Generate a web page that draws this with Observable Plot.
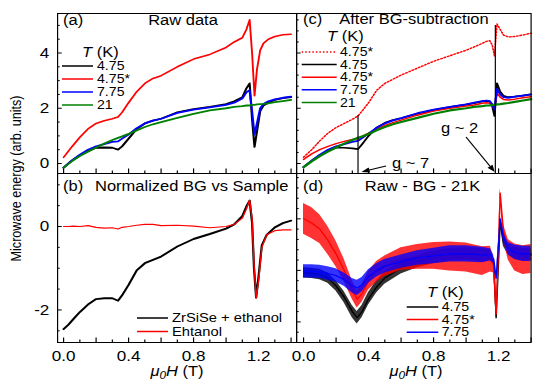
<!DOCTYPE html>
<html>
<head>
<meta charset="utf-8">
<script src="https://cdn.jsdelivr.net/npm/d3@7"></script>
<script src="https://cdn.jsdelivr.net/npm/@observablehq/plot@0.6"></script>
<style>
  html, body { margin: 0; padding: 0; background: #fff; overflow: hidden; }
  #wrap { position: relative; width: 453px; height: 380px; transform: scale(1.17881, 1); transform-origin: 0 0; }
  #wrap svg { position: absolute; left: 0; top: 0; }
</style>
</head>
<body>
<div id="wrap"></div>
<script>
// ---------------- data ----------------
// field grid for panels (a) and (c), in tesla
const xA = [0, 0.05, 0.1, 0.15, 0.2, 0.25, 0.3, 0.335, 0.36, 0.4, 0.45, 0.5, 0.55, 0.6, 0.7, 0.8, 0.9, 1.0, 1.05, 1.1, 1.125, 1.145, 1.16, 1.175, 1.19, 1.21, 1.23, 1.26, 1.3, 1.35, 1.4];
// (a) Raw data
const rawBlack = [-0.15, 0.1, 0.3, 0.45, 0.57, 0.58, 0.57, 0.5, 0.62, 0.9, 1.25, 1.45, 1.55, 1.62, 1.85, 1.97, 2.05, 2.15, 2.25, 2.4, 2.72, 2.9, 1.6, 0.6, 1.15, 1.9, 2.1, 2.2, 2.3, 2.37, 2.4];
const rawRed   = [0.22, 0.6, 0.95, 1.25, 1.45, 1.55, 1.62, 1.68, 1.85, 2.2, 2.6, 2.9, 3.08, 3.18, 3.5, 3.78, 3.95, 4.2, 4.4, 4.55, 4.85, 5.2, 4.0, 2.45, 3.4, 4.1, 4.35, 4.5, 4.6, 4.66, 4.68];
const rawBlue  = [-0.15, 0.1, 0.32, 0.5, 0.62, 0.7, 0.78, 0.8, 0.9, 1.05, 1.28, 1.45, 1.55, 1.62, 1.83, 1.95, 2.03, 2.12, 2.2, 2.35, 2.58, 2.65, 1.9, 1.05, 1.45, 2.0, 2.15, 2.25, 2.32, 2.38, 2.42];
const rawGreen = [-0.15, 0.08, 0.27, 0.43, 0.58, 0.72, 0.85, 0.93, 0.98, 1.07, 1.2, 1.32, 1.42, 1.5, 1.65, 1.8, 1.92, 2.0, 2.05, 2.08, 2.1, 2.1, 2.12, 2.12, 2.14, 2.15, 2.16, 2.18, 2.22, 2.26, 2.3];
// (c) After BG-subtraction
const cRedDot = [0.23, 0.5, 0.82, 1.1, 1.3, 1.45, 1.6, 1.72, 1.9, 2.2, 2.65, 2.9, 3.05, 3.2, 3.45, 3.7, 3.9, 4.1, 4.22, 4.35, 4.42, 4.45, 4.3, 3.9, 5.05, 4.85, 4.65, 4.58, 4.6, 4.65, 4.72];
const cBlack  = [-0.13, 0.1, 0.3, 0.45, 0.58, 0.57, 0.55, 0.52, 0.7, 1.0, 1.3, 1.47, 1.57, 1.64, 1.8, 1.93, 2.04, 2.13, 2.18, 2.25, 2.27, 2.25, 2.1, 1.72, 2.9, 2.6, 2.45, 2.4, 2.42, 2.46, 2.5];
const cRed    = [0.15, 0.35, 0.5, 0.62, 0.72, 0.8, 0.87, 0.9, 0.98, 1.1, 1.25, 1.38, 1.48, 1.57, 1.75, 1.9, 2.0, 2.08, 2.12, 2.18, 2.2, 2.18, 2.1, 1.95, 2.55, 2.4, 2.32, 2.3, 2.33, 2.38, 2.42];
const cBlue   = [-0.13, 0.1, 0.32, 0.5, 0.62, 0.7, 0.78, 0.82, 0.92, 1.08, 1.3, 1.45, 1.56, 1.64, 1.82, 1.95, 2.05, 2.14, 2.2, 2.26, 2.28, 2.26, 2.15, 1.95, 2.7, 2.5, 2.4, 2.38, 2.42, 2.46, 2.5];
const cGreen  = [-0.13, 0.08, 0.27, 0.43, 0.58, 0.72, 0.85, 0.93, 0.98, 1.07, 1.2, 1.32, 1.42, 1.5, 1.65, 1.8, 1.92, 2.0, 2.05, 2.08, 2.1, 2.1, 2.12, 2.12, 2.14, 2.15, 2.17, 2.19, 2.23, 2.28, 2.33];
const gField  = [0.335, 1.18];
const gTop    = [1.74, 5.0];
const gLabels = ["g ~ 7", "g ~ 2"];
// (b) Normalized BG vs Sample
const xB = [0, 0.03, 0.06, 0.1, 0.15, 0.2, 0.25, 0.3, 0.335, 0.36, 0.4, 0.45, 0.5, 0.55, 0.6, 0.7, 0.8, 0.9, 1.0, 1.05, 1.1, 1.125, 1.145, 1.16, 1.172, 1.185, 1.2, 1.22, 1.25, 1.3, 1.35, 1.4];
const bSample  = [-2.46, -2.35, -2.22, -2.05, -1.87, -1.74, -1.72, -1.72, -1.78, -1.65, -1.4, -1.05, -0.88, -0.8, -0.72, -0.48, -0.3, -0.18, -0.05, 0.05, 0.25, 0.48, 0.62, 0.1, -1.0, -1.7, -1.2, -0.45, -0.2, -0.02, 0.08, 0.14];
const bEthanol = [0, 0, 0.01, 0, 0.02, -0.02, -0.04, -0.03, -0.06, -0.02, 0, 0.03, 0.05, 0.05, 0.02, 0.03, 0.01, -0.03, 0, 0.05, 0.2, 0.42, 0.63, 0.2, -0.9, -1.72, -1.3, -0.5, -0.2, -0.1, -0.08, -0.08];
// (d) Raw - BG - 21K : centre values and noise half-width
const xD = [0, 0.05, 0.1, 0.15, 0.2, 0.25, 0.3, 0.33, 0.36, 0.4, 0.45, 0.5, 0.6, 0.7, 0.8, 0.9, 1.0, 1.1, 1.15, 1.17, 1.185, 1.2, 1.21, 1.23, 1.26, 1.3, 1.35, 1.4];
const dBlack = [-0.05, -0.06, -0.08, -0.15, -0.3, -0.52, -0.8, -0.92, -0.8, -0.55, -0.32, -0.15, 0.05, 0.17, 0.25, 0.3, 0.32, 0.3, 0.3, 0.15, -0.92, 0.2, 0.95, 0.55, 0.4, 0.33, 0.3, 0.3];
const dRed   = [1.0, 0.92, 0.8, 0.58, 0.32, 0.0, -0.38, -0.56, -0.45, -0.2, -0.03, 0.08, 0.22, 0.26, 0.28, 0.27, 0.25, 0.18, 0.22, 0.1, -0.85, 0.5, 1.5, 0.75, 0.4, 0.25, 0.2, 0.22];
const dBlue  = [-0.02, -0.02, -0.03, -0.06, -0.1, -0.18, -0.3, -0.34, -0.28, -0.12, 0.0, 0.08, 0.17, 0.24, 0.28, 0.32, 0.32, 0.3, 0.3, 0.22, -0.15, 0.5, 1.0, 0.65, 0.42, 0.35, 0.32, 0.32];
const nBlack = [0.1, 0.1, 0.1, 0.1, 0.1, 0.11, 0.12, 0.12, 0.12, 0.12, 0.12, 0.12, 0.12, 0.12, 0.12, 0.12, 0.12, 0.12, 0.1, 0.06, 0.04, 0.06, 0.05, 0.08, 0.1, 0.12, 0.12, 0.12];
const nRed   = [0.3, 0.3, 0.28, 0.27, 0.25, 0.22, 0.18, 0.17, 0.17, 0.18, 0.2, 0.2, 0.22, 0.24, 0.26, 0.28, 0.28, 0.28, 0.25, 0.15, 0.05, 0.1, 0.1, 0.15, 0.2, 0.26, 0.28, 0.28];
const nBlue  = [0.13, 0.13, 0.13, 0.13, 0.13, 0.13, 0.14, 0.15, 0.14, 0.13, 0.13, 0.13, 0.13, 0.14, 0.15, 0.16, 0.16, 0.15, 0.12, 0.08, 0.05, 0.06, 0.05, 0.08, 0.12, 0.14, 0.15, 0.15];
// ticks and labels
const xLabels = [0, 0.4, 0.8, 1.2];
const xMajor = [0, 0.2, 0.4, 0.6, 0.8, 1.0, 1.2, 1.4];
const xMinor = [0.1, 0.3, 0.5, 0.7, 0.9, 1.1, 1.3];
const aMajor = [0, 2, 4], aMinor = [0.5, 1, 1.5, 2.5, 3, 3.5, 4.5, 5];
const bMajor = [-2, 0], bMinor = [-2.5, -1.5, -1, -0.5, 0.5, 1];
const cMajor = [0, 2, 4], cMinor = [0.4, 0.8, 1.2, 1.6, 2.4, 2.8, 3.2, 3.6, 4.4, 4.8, 5.2];
const dMajor = [-1, 0, 1], dMinor = [-1.2, -0.8, -0.6, -0.4, -0.2, 0.2, 0.4, 0.6, 0.8, 1.2, 1.4, 1.6, 1.8];
// legends
const legA = ["4.75", "4.75*", "7.75", "21"];
const legB = ["ZrSiSe + ethanol", "Ehtanol"];
const legC = ["4.75*", "4.75", "4.75*", "7.75", "21"];
const legD = ["4.75", "4.75*", "7.75"];
const titles = ["(a)", "Raw data", "(b)", "Normalized BG vs Sample", "(c)", "After BG-subtraction", "(d)", "Raw - BG - 21K"];
const yTitle = "Microwave energy (arb. units)";

// ---------------- layout & style ----------------
const BLACK = "#000000", RED = "#ff0000", BLUE = "#0000ff", GREEN = "#008000";
const W = 453, H = 380, S = 534 / 453;
const L0 = 57 / S, D = 296 / S, R0 = 530.5 / S;
const T0 = 13, M = 173, B0 = 342;
const FONT = "'Liberation Sans', Arial, Helvetica, sans-serif";
const yDomA = [-0.362, 5.43], yDomB = [-2.78, 1.27], yDomD = [-1.40, 1.88];
const xDomL = [-0.037, 1.434], xDomR = [-0.043, 1.40];

function xTicks(innerH) {
  return [
    Plot.ruleX(xMinor, {x: d => d, insetTop: innerH - 2.6, stroke: BLACK}),
    Plot.ruleX(xMajor, {x: d => d, insetTop: innerH - 4.6, stroke: BLACK})
  ];
}
function yTicks(innerW, major, minor) {
  return [
    Plot.ruleY(minor, {y: d => d, insetRight: innerW - 2.3, stroke: BLACK}),
    Plot.ruleY(major, {y: d => d, insetRight: innerW - 4, stroke: BLACK})
  ];
}
function addText(g, x, y, parts, {anchor = "start", size = 14} = {}) {
  const t = g.append("text").attr("x", x).attr("y", y).attr("text-anchor", anchor)
    .attr("font-size", size).attr("font-family", FONT).attr("fill", BLACK);
  for (const p of [].concat(parts)) {
    const o = typeof p === "string" ? {t: p} : p;
    const s = t.append("tspan").text(o.t);
    if (o.i) s.attr("font-style", "italic");
    if (o.dy) s.attr("dy", o.dy);
    if (o.size) s.attr("font-size", o.size);
  }
  return t;
}
function legend(g, labels, colors, dashes, {x1, x2, xt, y0, step, size = 12}) {
  labels.forEach((lab, i) => {
    const y = y0 + i * step;
    g.append("line").attr("x1", x1).attr("x2", x2).attr("y1", y).attr("y2", y)
      .attr("stroke", colors[i]).attr("stroke-width", 1.5)
      .attr("stroke-dasharray", dashes && dashes[i] ? dashes[i] : null);
    addText(g, xt, y + 4.3, lab, {size});
  });
}
const TK = [{t: "T", i: true}, " (K)"];
const muH = [{t: "μ", i: true}, {t: "0", i: true, dy: 3, size: 10}, {t: "H", i: true, dy: -3}, " (T)"];

function make(opts) {
  const svg = Plot.plot({
    width: W, height: H,
    style: {background: "transparent", fontFamily: FONT, fontSize: "14.5px", color: BLACK, overflow: "visible"},
    ...opts
  });
  document.getElementById("wrap").appendChild(svg);
}
const line = (xs, ys, stroke, extra = {}) => Plot.line(ys, {x: xs, y: ys, stroke, strokeWidth: 1.6, ...extra});
const band = (xs, ys, ns, color) => [
  Plot.areaY(ys, {x: xs, y1: ys.map((v, i) => v - ns[i]), y2: ys.map((v, i) => v + ns[i]), fill: color, fillOpacity: 0.8}),
  Plot.line(ys, {x: xs, y: ys, stroke: color, strokeWidth: 1.2})
];

// ---------------- (a) Raw data ----------------
make({
  marginLeft: L0, marginRight: W - D, marginTop: T0, marginBottom: H - M,
  x: {domain: xDomL, axis: null},
  y: {domain: yDomA, label: null},
  marks: [
    line(xA, rawBlack, BLACK, {strokeWidth: 1.8}),
    line(xA, rawBlue, BLUE, {strokeWidth: 1.8}),
    line(xA, rawGreen, GREEN, {strokeWidth: 1.8}),
    line(xA, rawRed, RED, {strokeWidth: 1.6}),
    ...xTicks(M - T0),
    ...yTicks(D - L0, aMajor, aMinor),
    Plot.axisY(aMajor, {tickSize: 0, tickPadding: 7, tickFormat: d => String(d), label: null}),
    Plot.frame({stroke: BLACK}),
    () => {
      const g = d3.create("svg:g");
      addText(g, 63 / S, 25.5, titles[0]);
      addText(g, 183 / S, 25.5, titles[1], {anchor: "middle"});
      addText(g, 82 / S, 57.5, TK);
      legend(g, legA, [BLACK, RED, BLUE, GREEN], null, {x1: 62 / S, x2: 93 / S, xt: 97 / S, y0: 66, step: 13});
      g.append("text").attr("transform", `translate(${21 / S},178.5) rotate(-90)`)
        .attr("text-anchor", "middle").attr("font-size", 12.6).attr("font-family", FONT).attr("fill", BLACK).text(yTitle);
      return g.node();
    }
  ]
});

// ---------------- (b) Normalized BG vs Sample ----------------
make({
  marginLeft: L0, marginRight: W - D, marginTop: M, marginBottom: H - B0,
  x: {domain: xDomL, label: null},
  y: {domain: yDomB, label: null},
  marks: [
    line(xB, bSample, BLACK, {strokeWidth: 1.9}),
    line(xB, bEthanol, RED, {strokeWidth: 1.2}),
    ...xTicks(B0 - M),
    ...yTicks(D - L0, bMajor, bMinor),
    Plot.axisY(bMajor, {tickSize: 0, tickPadding: 7, tickFormat: d => String(d), label: null}),
    Plot.axisX(xLabels, {tickSize: 0, tickPadding: 8, tickFormat: d => d.toFixed(1), label: null}),
    Plot.frame({stroke: BLACK}),
    () => {
      const g = d3.create("svg:g");
      addText(g, 63 / S, 191.5, titles[2]);
      addText(g, 95 / S, 191.5, titles[3]);
      legend(g, legB, [BLACK, RED], null, {x1: 137 / S, x2: 168 / S, xt: 172 / S, y0: 318, step: 13.5, size: 12.5});
      addText(g, 177 / S, 376, muH, {anchor: "middle"});
      return g.node();
    }
  ]
});

// ---------------- (c) After BG-subtraction ----------------
make({
  marginLeft: D, marginRight: W - R0, marginTop: T0, marginBottom: H - M,
  x: {domain: xDomR, axis: null},
  y: {domain: yDomA, axis: null},
  marks: [
    line(xA, cRedDot, RED, {strokeWidth: 1.4, strokeDasharray: "1.3 1.7"}),
    line(xA, cBlack, BLACK, {strokeWidth: 1.7}),
    line(xA, cRed, RED, {strokeWidth: 1.5}),
    line(xA, cBlue, BLUE, {strokeWidth: 1.8}),
    line(xA, cGreen, GREEN, {strokeWidth: 2.2}),
    Plot.ruleX(gField, {x: gField, y1: yDomA[0], y2: gTop, stroke: BLACK, strokeWidth: 1}),
    ...xTicks(M - T0),
    ...yTicks(R0 - D, cMajor, cMinor),
    Plot.frame({stroke: BLACK}),
    (index, scales) => {
      const g = d3.create("svg:g");
      addText(g, 303 / S, 24.5, titles[4]);
      addText(g, 414 / S, 24.5, titles[5], {anchor: "middle"});
      addText(g, 327 / S, 41.5, TK);
      legend(g, legC, [RED, BLACK, RED, BLUE, GREEN], ["1.3 1.7", null, null, null, null],
        {x1: 301.7 / S, x2: 336.7 / S, xt: 340 / S, y0: 52, step: 12.6});
      addText(g, 392 / S, 168, gLabels[0]);
      addText(g, 441 / S, 133, gLabels[1]);
      const tails = [[386 / S, 166], [466 / S, 137]];
      const tips = [[scales.x(gField[0]) + 4 / S, M - 1], [scales.x(gField[1]), M - 1]];
      tails.forEach((t, i) => {
        const [x1, y1] = t, [x2, y2] = tips[i];
        const a = Math.atan2(y2 - y1, x2 - x1), L = 7, w = 2.6;
        const bx = x2 - L * Math.cos(a), by = y2 - L * Math.sin(a);
        g.append("line").attr("x1", x1).attr("y1", y1).attr("x2", bx).attr("y2", by).attr("stroke", BLACK).attr("stroke-width", 1.1);
        g.append("path").attr("fill", BLACK)
          .attr("d", `M${x2},${y2}L${bx - w * Math.sin(a)},${by + w * Math.cos(a)}L${bx + w * Math.sin(a)},${by - w * Math.cos(a)}Z`);
      });
      return g.node();
    }
  ]
});

// ---------------- (d) Raw - BG - 21K ----------------
make({
  marginLeft: D, marginRight: W - R0, marginTop: M, marginBottom: H - B0,
  x: {domain: xDomR, label: null},
  y: {domain: yDomD, axis: null},
  marks: [
    ...band(xD, dBlack, nBlack, BLACK),
    ...band(xD, dRed, nRed, RED),
    ...band(xD, dBlue, nBlue, BLUE),
    ...xTicks(B0 - M),
    ...yTicks(R0 - D, dMajor, dMinor),
    Plot.axisX(xLabels, {tickSize: 0, tickPadding: 8, tickFormat: d => d.toFixed(1), label: null}),
    Plot.frame({stroke: BLACK}),
    () => {
      const g = d3.create("svg:g");
      addText(g, 303 / S, 191.5, titles[6]);
      addText(g, 422.5 / S, 191.5, titles[7], {anchor: "middle"});
      addText(g, 427 / S, 297, TK);
      legend(g, legD, [BLACK, RED, BLUE], null, {x1: 406.7 / S, x2: 438.3 / S, xt: 441.7 / S, y0: 307, step: 12.6});
      addText(g, 416 / S, 376, muH, {anchor: "middle"});
      return g.node();
    }
  ]
});
</script>
</body>
</html>
